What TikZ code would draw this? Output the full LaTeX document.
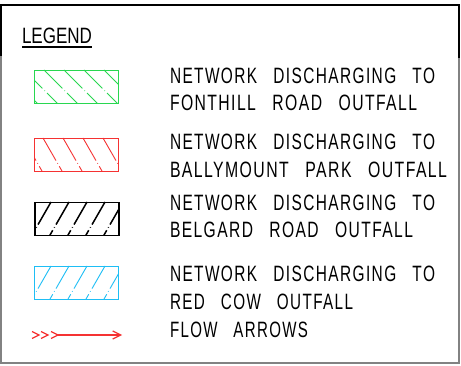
\documentclass[tikz,border=0pt]{standalone}
\usepackage{fontspec}
\usepackage{graphicx}
\setmainfont[LetterSpace=9]{Liberation Sans}
\usetikzlibrary{arrows.meta}
\definecolor{hgreen}{RGB}{40,215,80}
\definecolor{hred}{RGB}{245,50,50}
\definecolor{hcyan}{RGB}{30,190,245}
\definecolor{frgray}{RGB}{130,130,130}
\newcommand{\Tx}[2]{\resizebox{#1}{15.5pt}{#2}}
\newcommand{\wsp}{\hspace{1.05em}}
\begin{document}
\begin{tikzpicture}[x=1pt,y=-1pt,
  lbl/.style={anchor=base west,inner sep=0pt,outer sep=0pt},
  frame/.style={line width=2pt,black},
  gframe/.style={line width=1.3pt,frgray},
  boxg/.style={draw=hgreen,line width=1.3pt},
  boxr/.style={draw=hred,line width=1.3pt},
  boxk/.style={draw=black,line width=1.5pt},
  boxc/.style={draw=hcyan,line width=1.3pt},
  hatchline/.style={line width=0.9pt,dash pattern=on 26pt off 3pt on 0.6pt off 3pt},
  flow/.style={hred,line width=1.2pt}]
\useasboundingbox (0,0) rectangle (461,366);
\fill[white] (0,0) rectangle (461,366);
% frame
\draw[gframe] (1,56) -- (1,363) -- (459,363) -- (459,58);
\draw[frame] (1,56) -- (1,5) -- (459,5) -- (459,58);
% legend title
\node[lbl] (legend) at (22,43.5) {\Tx{70pt}{\addfontfeature{LetterSpace=0}LEGEND}};
\draw[line width=1.1pt] ([yshift=-3.5pt]legend.base west) -- ([yshift=-3.5pt]legend.base east);
% green box
\begin{scope}
\clip (34,70) rectangle (118,103);
\foreach \x in {4,24,44,64,84,104}
  \draw[hatchline,hgreen] (\x,70) -- ++(40,40);
\end{scope}
\node[boxg,minimum width=84pt,minimum height=33pt,inner sep=0pt,anchor=north west] (bg) at (34,70) {};
% red box
\begin{scope}
\clip (34,138) rectangle (118,171);
\foreach \x in {3,23,43,63,83,103}
  \draw[hatchline,hred] (\x,138) -- ++(23,40);
\end{scope}
\node[boxr,minimum width=84pt,minimum height=33pt,inner sep=0pt,anchor=north west] (br) at (34,138) {};
% black box
\begin{scope}
\clip (34,202) rectangle (118,235);
\foreach \x in {33,51,69,87,105,123,141}
  \draw[hatchline,black,line width=1.5pt] (\x,202) -- ++(-23,40);
\end{scope}
\node[boxk,minimum width=84pt,minimum height=33pt,inner sep=0pt,anchor=north west] (bk) at (34,202) {};
% cyan box
\begin{scope}
\clip (34,266) rectangle (118,299);
\foreach \x in {33,51,69,87,105,123,141}
  \draw[hatchline,hcyan] (\x,266) -- ++(-23,40);
\end{scope}
\node[boxc,minimum width=84pt,minimum height=33pt,inner sep=0pt,anchor=north west] (bc) at (34,266) {};
% flow arrow
\coordinate (fa) at (58,335);
\coordinate (fb) at (122,335);
\draw[flow] (32,331.5) -- (39,335) -- (32,338.5);
\draw[flow] (41,331.5) -- (48,335) -- (41,338.5);
\draw[flow] (51,331.5) -- (58,335) -- (51,338.5);
\draw[flow,-{Straight Barb[length=8pt,width=8pt]}] (fa) -- (fb);
% texts
\node[lbl] (t1) at (170,84) {\Tx{265pt}{NETWORK\wsp DISCHARGING\wsp TO}};
\node[lbl] (t2) at (170,111) {\Tx{247pt}{FONTHILL\wsp ROAD\wsp OUTFALL}};
\node[lbl] (t3) at (170,150) {\Tx{265pt}{NETWORK\wsp DISCHARGING\wsp TO}};
\node[lbl] (t4) at (170,178) {\Tx{277pt}{BALLYMOUNT\wsp PARK\wsp OUTFALL}};
\node[lbl] (t5) at (170,211) {\Tx{265pt}{NETWORK\wsp DISCHARGING\wsp TO}};
\node[lbl] (t6) at (170,238) {\Tx{243pt}{BELGARD\wsp ROAD\wsp OUTFALL}};
\node[lbl] (t7) at (170,282) {\Tx{265pt}{NETWORK\wsp DISCHARGING\wsp TO}};
\node[lbl] (t8) at (170,310) {\Tx{183pt}{RED\wsp COW\wsp OUTFALL}};
\node[lbl] (t9) at (170,338) {\Tx{138pt}{FLOW\wsp ARROWS}};
\end{tikzpicture}
\end{document}
